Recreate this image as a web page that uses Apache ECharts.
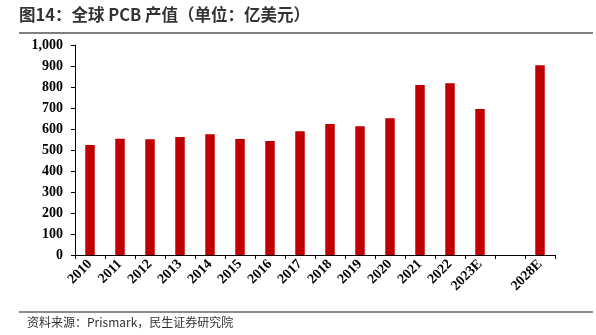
<!DOCTYPE html>
<html>
<head>
<meta charset="utf-8">
<script src="https://cdn.jsdelivr.net/npm/echarts@6/dist/echarts.min.js"></script>
<style>
  html, body { margin: 0; padding: 0; background: #fff; }
  #chart { width: 596px; height: 335px; }
</style>
</head>
<body>
<div id="chart"></div>
<script>
// Global PCB output value, 100 million USD
const categories = ['2010', '2011', '2012', '2013', '2014', '2015', '2016', '2017',
  '2018', '2019', '2020', '2021', '2022', '2023E', '', '2028E'];
const outputValues = [524, 554, 551, 562, 575, 552, 543, 589, 624, 613, 651, 810, 818, 695, null, 903];
const yTicks = { min: 0, max: 1000, interval: 100 };

const chart = echarts.init(document.getElementById('chart'), null, { renderer: 'canvas' });

const serif = '"Liberation Serif", "Times New Roman", serif';
const cjk = '"Noto Sans CJK SC", "Microsoft YaHei", sans-serif';

chart.setOption({
  animation: false,
  backgroundColor: '#fff',
  grid: { left: 75, right: 41, top: 45, bottom: 80, containLabel: false },
  graphic: [
    { type: 'text', left: 19, top: 6,
      style: { text: '图14：全球 PCB 产值（单位：亿美元）', font: 'bold 16.5px ' + cjk, fill: '#333' } },
    { type: 'line', shape: { x1: 19, y1: 33, x2: 593, y2: 33 },
      style: { stroke: '#555', lineWidth: 1.5 } },
    { type: 'line', shape: { x1: 19, y1: 312, x2: 593, y2: 312 },
      style: { stroke: '#666', lineWidth: 1.5 } },
    { type: 'text', left: 27, top: 316,
      style: { text: '资料来源：Prismark，民生证券研究院', font: '12px ' + cjk, fill: '#333' } }
  ],
  xAxis: {
    type: 'category',
    data: categories,
    boundaryGap: true,
    axisLine: { lineStyle: { color: '#000', width: 1 } },
    axisTick: { show: true, inside: false, length: 4, alignWithLabel: false, interval: 0,
      lineStyle: { color: '#000' } },
    axisLabel: { interval: 0, rotate: 45, margin: 7, color: '#000',
      fontFamily: serif, fontWeight: 'bold', fontSize: 14 }
  },
  yAxis: {
    type: 'value',
    min: yTicks.min, max: yTicks.max, interval: yTicks.interval,
    splitLine: { show: false },
    axisLine: { show: true, lineStyle: { color: '#000', width: 1 } },
    axisTick: { show: true, inside: false, length: 4, lineStyle: { color: '#000' } },
    axisLabel: { color: '#000', fontFamily: serif, fontWeight: 'bold', fontSize: 14, margin: 12,
      formatter: v => v.toLocaleString('en-US') }
  },
  series: [{
    type: 'bar',
    data: outputValues,
    barWidth: 9.5,
    itemStyle: { color: '#C00000' }
  }]
});
</script>
</body>
</html>
